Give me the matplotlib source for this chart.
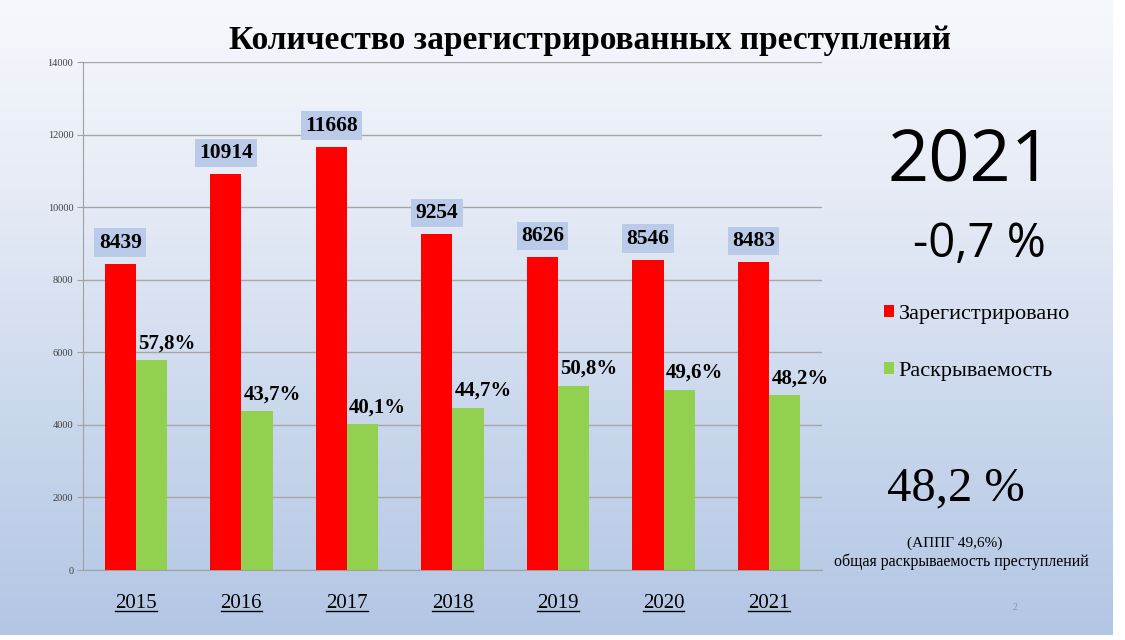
import numpy as np
import matplotlib.pyplot as plt
from matplotlib.colors import LinearSegmentedColormap
from matplotlib.lines import Line2D

years = ['2015', '2016', '2017', '2018', '2019', '2020', '2021']
registered = [8439, 10914, 11668, 9254, 8626, 8546, 8483]
solved_pct = [57.8, 43.7, 40.1, 44.7, 50.8, 49.6, 48.2]
yticks = [0, 2000, 4000, 6000, 8000, 10000, 12000, 14000]

serif = 'Liberation Serif'
W, H = 1125, 640


def fx(px):
    return px / W


def fy(py):
    return 1 - py / H


fig = plt.figure(figsize=(W / 100, H / 100), dpi=100)

# slide background gradient
bg = fig.add_axes([0, 0, 1, 1], zorder=-10)
grad = np.linspace(0, 1, 256).reshape(-1, 1)
cmap = LinearSegmentedColormap.from_list('slide', ['#f6f8fc', '#e4eaf5', '#c9d7ec', '#b3c6e4'])
bg.imshow(grad, aspect='auto', cmap=cmap, extent=[0, fx(1113), fy(635), 1], origin='upper')
bg.set_xlim(0, 1)
bg.set_ylim(0, 1)
bg.axis('off')

ax = fig.add_axes([fx(83), fy(570), fx(822 - 83), (570 - 62) / H])
ax.patch.set_alpha(0)

x = np.arange(len(years))
w = 0.295
solved_vals = [p * 100 for p in solved_pct]
bars_r = ax.bar(x - w / 2, registered, w, color='#ff0000', zorder=3)
bars_g = ax.bar(x + w / 2, solved_vals, w, color='#92d050', zorder=3)

ax.set_xlim(-0.5, len(years) - 0.5)
ax.set_ylim(0, 14000)
ax.set_yticks(yticks)
ax.set_yticklabels([str(t) for t in yticks], fontsize=7.5, color='#404040', family=serif)
ax.tick_params(axis='y', length=4, color='#a0a0a0', pad=3)
ax.set_xticks(x)
ax.set_xticklabels(years, fontsize=15, family=serif)
ax.tick_params(axis='x', length=0, pad=17)
ax.yaxis.grid(True, color='#a6a6a6', lw=1, zorder=0)
for s in ['top', 'right']:
    ax.spines[s].set_visible(False)
for s in ['left', 'bottom']:
    ax.spines[s].set_color('#a0a0a0')

for xi, v in zip(x, registered):
    ax.annotate(str(v), (xi - w / 2, v), xytext=(0, 8), textcoords='offset points',
                ha='center', va='bottom', fontsize=15.5, fontweight='bold', family=serif,
                bbox=dict(boxstyle='square,pad=0.2', fc='#b9cbe8', ec='none'), zorder=4)

for xi, v, p in zip(x, solved_vals, solved_pct):
    ax.annotate(f'{p:.1f}%'.replace('.', ','), (xi + w / 2, v), xytext=(11, 5),
                textcoords='offset points', ha='center', va='bottom', fontsize=15,
                fontweight='bold', family=serif, zorder=4)

fig.text(fx(590), fy(40), 'Количество зарегистрированных преступлений', ha='center', va='center',
         fontsize=24, fontweight='bold', family=serif)

fig.text(fx(970), fy(162), '2021', ha='center', va='center', fontsize=52, family='Open Sans')
fig.text(fx(979), fy(244), '-0,7 %', ha='center', va='center', fontsize=34, family='Open Sans')

leg = fig.legend([bars_r, bars_g], ['Зарегистрировано', 'Раскрываемость'], loc='upper left',
                 bbox_to_anchor=(fx(864), fy(285)), frameon=False,
                 prop={'family': serif, 'size': 16},
                 handlelength=0.45, handleheight=0.45, handletextpad=0.2, labelspacing=1.72)

fig.text(fx(956), fy(488), '48,2 %', ha='center', va='center', fontsize=35, family=serif)
fig.text(fx(955), fy(543), '(АППГ 49,6%)', ha='center', va='center', fontsize=11, family=serif)
fig.text(fx(961), fy(562), 'общая раскрываемость преступлений', ha='center', va='center',
         fontsize=11.5, family=serif)
fig.text(fx(1015), fy(607), '2', ha='center', va='center', fontsize=7, color='#909090', family=serif)

# underline the year labels
fig.canvas.draw()
renderer = fig.canvas.get_renderer()
for lbl in ax.get_xticklabels():
    bb = lbl.get_window_extent(renderer)
    yline = (bb.y0 + 2) / H
    fig.add_artist(Line2D([bb.x0 / W, bb.x1 / W], [yline, yline], color='black', lw=1))

fig.savefig('out.png', dpi=100)
